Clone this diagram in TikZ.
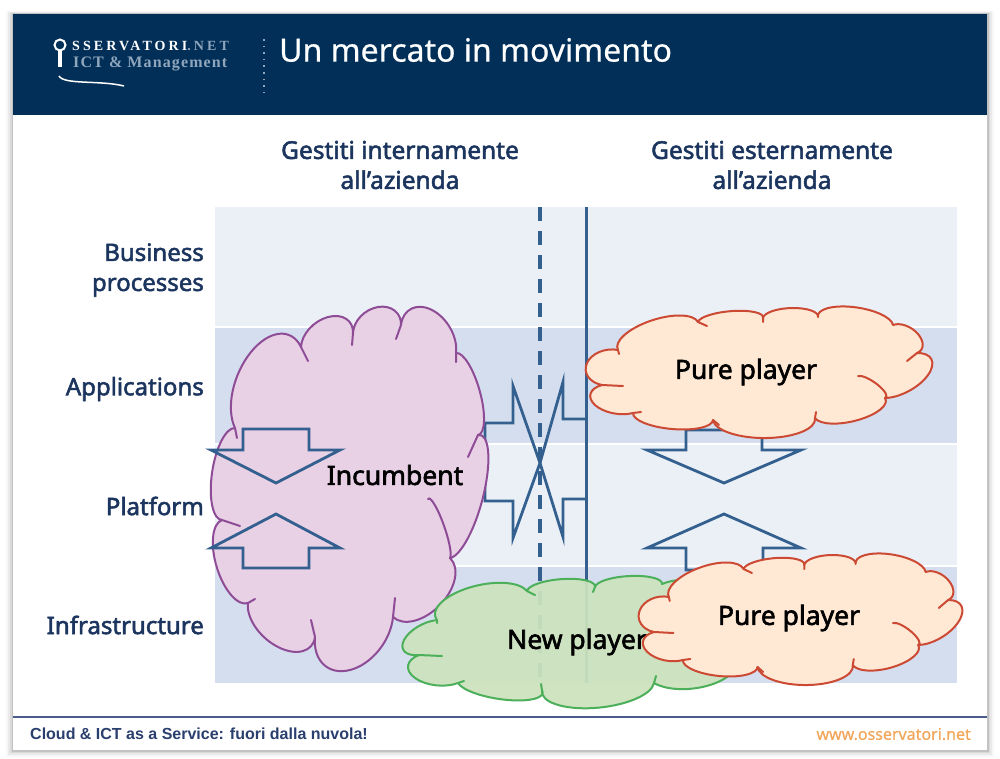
\documentclass[tikz,border=0pt]{standalone}
\usepackage{fontspec}
\usetikzlibrary{calc}
\setmainfont{Noto Sans}
\newfontfamily\labfont[FakeBold=2.2]{Noto Sans}
\newfontfamily\titlefont[FakeBold=0.5]{Noto Sans}
\newfontfamily\footfont{Liberation Sans}
\newfontfamily\logofont{Liberation Serif}
\definecolor{navy}{HTML}{012F58}
\definecolor{bandlight}{HTML}{EBF0F6}
\definecolor{banddark}{HTML}{D5DEEE}
\definecolor{arrowblue}{HTML}{33608F}
\definecolor{labelblue}{HTML}{1C355E}
\definecolor{incfill}{HTML}{E8D0E5}
\definecolor{incline}{HTML}{8E4C97}
\definecolor{newfill}{HTML}{CDE3BE}
\definecolor{newline}{HTML}{4CAF5A}
\definecolor{purefill}{HTML}{FFE9D5}
\definecolor{pureline}{HTML}{CC4A33}
\definecolor{footblue}{HTML}{2A3F6E}
\definecolor{footline}{HTML}{4A5D8C}
\definecolor{weborange}{HTML}{F2A65A}
\definecolor{logogrey}{HTML}{8FA6BD}
\def\lobe#1#2#3{.. controls ($(#1)+0.552*(#2)-0.276*(#1)-0.276*(#3)$) and ($(#2)-0.276*(#3)+0.276*(#1)$) .. (#2) .. controls ($(#2)+0.276*(#3)-0.276*(#1)$) and ($(#3)+0.552*(#2)-0.276*(#1)-0.276*(#3)$) .. (#3)}
\def\purepath{(618,350) \lobe{618,350}{650,321}{698,322} \lobe{698,322}{733,311}{763,318} \lobe{763,318}{792,308}{818,317} \lobe{818,317}{853,307}{893,325} \lobe{893,325}{918,334}{917,353} \lobe{917,353}{928,375}{885,398} \lobe{885,398}{858,420}{815,418} \lobe{815,418}{767,438}{713,420} \lobe{713,420}{672,429}{633,413} \lobe{633,413}{595,405}{602,385} \lobe{602,385}{587,363}{618,350} -- cycle}
\def\puretails{(698,322) -- (707,326) (763,318) -- (763,322) (917,353) -- (907,361) (885,398) \lobe{885,398}{878,385}{858,376} (815,418) -- (816,412) (713,420) -- (719,425) (633,413) -- (641,412) (602,385) -- (623,386) (618,350) -- (619,354)}
\tikzset{
  band/.style={fill=#1,draw=none},
  blockarrow/.style={draw=arrowblue,line width=2.8pt,line join=miter,fill=none},
  vline/.style={draw=arrowblue,line width=3pt},
  incloud/.style={fill=incfill,draw=incline,line width=2pt,line join=round},
  incedge/.style={draw=incline,line width=2pt,line cap=round},
  newcloud/.style={fill=newfill,fill opacity=0.93,draw=newline,line width=2pt,line join=round},
  newedge/.style={draw=newline,line width=2pt,line cap=round},
  purecloud/.style={fill=purefill,draw=pureline,line width=2pt,line join=round},
  pureedge/.style={draw=pureline,line width=2pt,line cap=round},
  rowlabel/.style={anchor=east,text=labelblue,font=\labfont\fontsize{24}{30}\selectfont,align=right,inner sep=0pt},
  headlabel/.style={text=labelblue,font=\labfont\fontsize{24.5}{30}\selectfont,align=center,inner sep=0pt},
  cloudlabel/.style={text=black,font=\labfont\fontsize{26.5}{29}\selectfont,inner sep=0pt}
}
\begin{document}
\begin{tikzpicture}[x=1pt,y=-1pt]
\useasboundingbox (0,0) rectangle (1000,758);
\fill[white] (0,0) rectangle (1000,758);
% frame shadow
\foreach \d/\o in {7/0.03,5/0.05,3/0.07,1.5/0.1}{
  \fill[black,opacity=\o] (13-\d,14-\d/2) rectangle (987+\d,750+\d);
}
\fill[white] (13,14) rectangle (987,750);
% header
\fill[navy] (13,14) rectangle (987,115);
\draw[white,line width=2pt] (60,45) circle (5.5);
\fill[white] (58,51) rectangle (62,67);
\draw[white,line width=1.5pt] (59,76) .. controls (64,85) and (100,80) .. (124,86);
\node[anchor=west,inner sep=0pt,text=white,font=\logofont\bfseries\fontsize{14}{15}\selectfont] (logotop) at (72,46) {\addfontfeatures{LetterSpace=22}SSERVATORI\textcolor{logogrey}{.NET}};
\node[anchor=west,inner sep=0pt,text=logogrey,font=\logofont\bfseries\fontsize{16}{17}\selectfont] (logobottom) at (73,64) {\addfontfeatures{LetterSpace=7}ICT \& Management};
\draw[logogrey,line width=1.6pt,dash pattern=on 1.6pt off 5pt] (264,39) -- (264,97);
\node[anchor=west,inner sep=0pt,text=white,font=\titlefont\fontsize{32}{36}\selectfont] (title) at (279,50) {Un mercato in movimento};
% bands
\fill[band=bandlight] (215,207) rectangle (957,326);
\fill[band=banddark] (215,328) rectangle (957,443);
\fill[band=bandlight] (215,445) rectangle (957,565);
\fill[band=banddark] (215,567) rectangle (957,683);
% column heads and row labels
\node[headlabel] (head1) at (400,165) {Gestiti internamente\\all’azienda};
\node[headlabel] (head2) at (772,165) {Gestiti esternamente\\all’azienda};
\node[rowlabel] (row1) at (204,270) {Business\\processes};
\node[rowlabel] (row2) at (204,389) {Applications};
\node[rowlabel] (row3) at (204,506) {Platform};
\node[rowlabel] (row4) at (204,625) {Infrastructure};
% vertical lines
\draw[vline,dash pattern=on 14pt off 10pt,line width=3.4pt] (540,207) -- (540,683);
\draw[vline] (586,207) -- (586,683);
% central crossing arrows
\draw[blockarrow] (485,423) -- (513,423) -- (513,386) -- (540,463) -- (513,538) -- (513,501) -- (485,501) -- cycle;
\draw[blockarrow] (586,419) -- (563,419) -- (563,382) -- (540,463) -- (563,537) -- (563,499) -- (586,499);
% right arrows
\draw[blockarrow] (686,430) -- (762,430) -- (762,450) -- (801,450) -- (724,483) -- (647,450) -- (686,450) -- cycle;
\draw[blockarrow] (686,570) -- (763,570) -- (763,548) -- (801,548) -- (724,514) -- (647,548) -- (686,548) -- cycle;
% incumbent cloud
\path[incloud] (235,428) \lobe{235,428}{251,352}{301,347} \lobe{301,347}{328,317}{353,333} \lobe{353,333}{378,307}{401,325} \lobe{401,325}{432,310}{456,353} \lobe{456,353}{480,392}{478,435} \lobe{478,435}{484,493}{450,558} \lobe{450,558}{440,605}{393,617} \lobe{393,617}{350,670}{315,637} \lobe{315,637}{278,647}{248,603} \lobe{248,603}{217,568}{222,520} \lobe{222,520}{212,473}{235,428} -- cycle;
\draw[incedge] (235,428) -- (237,438) (301,347) -- (308,361) (353,333) -- (352,345) (401,325) -- (396,339) (456,353) -- (456,362) (478,435) -- (468,457) (450,558) \lobe{450,558}{443,523}{428,499} (393,617) -- (395,598) (315,637) -- (311,620) (248,603) -- (255,599) (222,520) -- (240,526);
% left arrows
\draw[blockarrow] (243,429) -- (309,429) -- (309,450) -- (340,450) -- (276,483) -- (211,450) -- (243,450) -- cycle;
\draw[blockarrow] (243,568) -- (309,568) -- (309,548) -- (340,548) -- (276,514) -- (211,548) -- (243,548) -- cycle;
\node[cloudlabel] (incumbent) at (395,475) {Incumbent};
% new player cloud
\path[newcloud] (437,620) \lobe{437,620}{468,588}{527,591} \lobe{527,591}{563,579}{595,587} \lobe{595,587}{630,576}{662,584} \lobe{662,584}{735,600}{728,650} \lobe{728,650}{718,682}{654,683} \lobe{654,683}{594,708}{542,690} \lobe{542,690}{508,700}{458,683} \lobe{458,683}{415,678}{419,655} \lobe{419,655}{404,640}{437,620} -- cycle;
\draw[newedge] (527,591) -- (535,595) (595,587) -- (593,592) (654,683) -- (656,676) (542,690) -- (541,684) (458,683) -- (464,681) (419,655) -- (442,656) (437,620) -- (437,623);
\node[cloudlabel] (newplayer) at (577,642) {New player};
% pure player clouds
\path[purecloud] \purepath;
\draw[pureedge] \puretails;
\node[cloudlabel] (pure1) at (746,372) {Pure player};
\begin{scope}[xshift=91.6pt,yshift=-247pt,x=0.934pt]
\path[purecloud] \purepath;
\draw[pureedge] \puretails;
\end{scope}
\node[cloudlabel] (pure2) at (789,618) {Pure player};
% footer
\draw[footline,line width=2.4pt] (13,717) -- (987,717);
\node[anchor=west,inner sep=0pt,text=footblue,font=\footfont\bfseries\fontsize{16}{17}\selectfont] (foot1) at (30,734) {Cloud \& ICT as a Service: fuori dalla nuvola!};
\node[anchor=east,inner sep=0pt,text=weborange,font=\titlefont\fontsize{16}{17}\selectfont] (foot2) at (971,734) {www.osservatori.net};
\end{tikzpicture}
\end{document}
